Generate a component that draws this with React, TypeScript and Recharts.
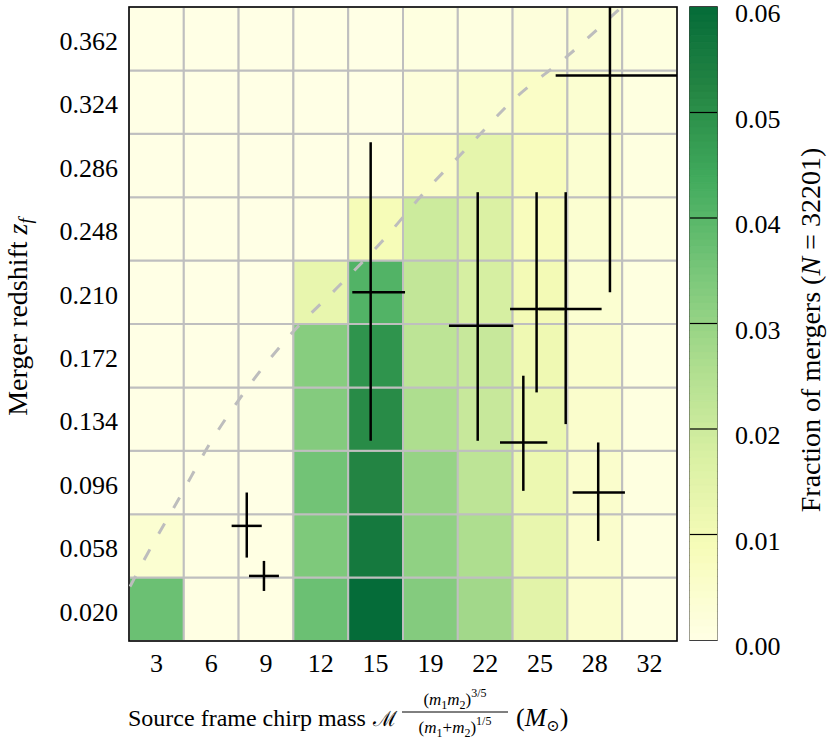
import React from 'react';
import {
  ComposedChart,
  BarChart,
  Bar,
  XAxis,
  YAxis,
  ReferenceArea,
  ReferenceLine,
  Line,
  Scatter,
  ErrorBar,
} from 'recharts';

const FONT = "'Liberation Serif', 'DejaVu Serif', serif";

// ---- bins ----
const massCenters = [3.05, 6.27, 9.49, 12.71, 15.93, 19.15, 22.37, 25.59, 28.81, 32.03];
const massLabels = ['3', '6', '9', '12', '15', '19', '22', '25', '28', '32'];
const massBinWidth = 3.22;
const zCenters = [0.02, 0.058, 0.096, 0.134, 0.172, 0.21, 0.248, 0.286, 0.324, 0.362];
const zLabels = ['0.020', '0.058', '0.096', '0.134', '0.172', '0.210', '0.248', '0.286', '0.324', '0.362'];
const zBinWidth = 0.038;

// ---- fraction of mergers per cell, one array per redshift row (columns = mass bins) ----
const frac_z020 = [0.037, 0.0003, 0.0003, 0.037, 0.06, 0.033, 0.028, 0.015, 0.005, 0.001];
const frac_z058 = [0.004, 0.0003, 0.0003, 0.034, 0.056, 0.031, 0.026, 0.013, 0.005, 0.001];
const frac_z096 = [0, 0, 0, 0.036, 0.0525, 0.03, 0.023, 0.012, 0.005, 0.001];
const frac_z134 = [0, 0, 0, 0.033, 0.051, 0.026, 0.021, 0.012, 0.005, 0.001];
const frac_z172 = [0, 0, 0, 0.0325, 0.049, 0.023, 0.021, 0.011, 0.005, 0.001];
const frac_z210 = [0, 0, 0, 0.013, 0.041, 0.022, 0.018, 0.01, 0.004, 0.001];
const frac_z248 = [0, 0, 0, 0.0003, 0.009, 0.02, 0.017, 0.008, 0.004, 0.001];
const frac_z286 = [0, 0, 0, 0, 0.0005, 0.006, 0.014, 0.008, 0.004, 0.001];
const frac_z324 = [0, 0, 0, 0, 0, 0.002, 0.004, 0.006, 0.004, 0.001];
const frac_z362 = [0, 0, 0, 0, 0, 0.001, 0.001, 0.002, 0.003, 0.001];
const fracRows = [frac_z020, frac_z058, frac_z096, frac_z134, frac_z172, frac_z210, frac_z248, frac_z286, frac_z324, frac_z362];

// ---- observed events (crosses) ----
const crossMass = [8.36, 9.37, 15.64, 21.93, 25.39, 27.1, 24.61, 29.01, 29.7];
const crossMassLow = [7.47, 8.49, 14.56, 20.24, 23.83, 25.53, 23.24, 27.51, 26.51];
const crossMassHigh = [9.24, 10.25, 17.66, 24.02, 27.0, 29.21, 26.02, 30.58, 33.64];
const crossZ = [0.07, 0.04, 0.21, 0.19, 0.2, 0.2, 0.12, 0.09, 0.34];
const crossZLow = [0.051, 0.031, 0.121, 0.121, 0.15, 0.131, 0.091, 0.061, 0.21];
const crossZHigh = [0.09, 0.049, 0.3, 0.27, 0.27, 0.27, 0.16, 0.12, 0.381];

// ---- horizon curve (dashed) ----
const curveMass = [1.5, 2.38, 4.44, 6.2, 8.45, 11.0, 13.64, 16.29, 18.83, 21.38, 24.12, 27.16, 30.09, 30.39];
const curveZ = [0.0336, 0.0506, 0.0875, 0.1195, 0.1534, 0.1854, 0.2124, 0.2403, 0.2703, 0.2973, 0.3263, 0.3512, 0.3782, 0.381];

// ---- colour bar ----
const cbTicks = [0, 0.01, 0.02, 0.03, 0.04, 0.05, 0.06];
const cbMax = 0.06;
const cmapMax = 0.07;

const YLGN = ['#ffffe5', '#f7fcb9', '#d9f0a3', '#addd8e', '#78c679', '#41ab5d', '#238443', '#006837', '#004529'];
function hexToRgb(h: string) {
  return [parseInt(h.slice(1, 3), 16), parseInt(h.slice(3, 5), 16), parseInt(h.slice(5, 7), 16)];
}
function cmap(v: number) {
  const f = Math.max(0, Math.min(1, v / cmapMax));
  const pos = f * (YLGN.length - 1);
  const i = Math.min(YLGN.length - 2, Math.floor(pos));
  const t = pos - i;
  const a = hexToRgb(YLGN[i]);
  const b = hexToRgb(YLGN[i + 1]);
  const c = a.map((x, k) => Math.round(x + (b[k] - x) * t));
  return `rgb(${c[0]},${c[1]},${c[2]})`;
}

const xMin = massCenters[0] - massBinWidth / 2;
const xMax = massCenters[massCenters.length - 1] + massBinWidth / 2;
const yMin = zCenters[0] - zBinWidth / 2;
const yMax = zCenters[zCenters.length - 1] + zBinWidth / 2;

const cells: { x1: number; x2: number; y1: number; y2: number; v: number; key: string }[] = [];
fracRows.forEach((row, r) => {
  row.forEach((v, c) => {
    cells.push({
      x1: massCenters[c] - massBinWidth / 2,
      x2: massCenters[c] + massBinWidth / 2,
      y1: zCenters[r] - zBinWidth / 2,
      y2: zCenters[r] + zBinWidth / 2,
      v,
      key: `${r}-${c}`,
    });
  });
});

const crossData = crossMass.map((m, i) => ({
  m,
  z: crossZ[i],
  mErr: [m - crossMassLow[i], crossMassHigh[i] - m],
  zErr: [crossZ[i] - crossZLow[i], crossZHigh[i] - crossZ[i]],
}));

const curveData = curveMass.map((m, i) => ({ m, z: curveZ[i] }));

// colour bar as a stack of thin slices
const nSlices = 90;
const sliceH = cbMax / nSlices;
const cbRow: Record<string, number | string> = { name: 'cb' };
const cbKeys: { key: string; color: string }[] = [];
for (let i = 0; i < nSlices; i++) {
  const key = `s${i}`;
  cbRow[key] = sliceH;
  cbKeys.push({ key, color: cmap((i + 0.5) * sliceH) });
}
const cbData = [cbRow];

const XTitle = () => (
  <g fontFamily={FONT} fill="#000">
    <text x={128} y={726} fontSize={24}>
      Source frame chirp mass
    </text>
    <text x={373} y={726} fontSize={21}>
      ℳ
    </text>
    <text x={455} y={705} fontSize={17} textAnchor="middle">
      (<tspan fontStyle="italic">m</tspan>
      <tspan fontSize={12} dy={4}>1</tspan>
      <tspan fontStyle="italic" dy={-4}>m</tspan>
      <tspan fontSize={12} dy={4}>2</tspan>
      <tspan dy={-4}>)</tspan>
      <tspan fontSize={12} dy={-8}>3/5</tspan>
    </text>
    <line x1={402} x2={508} y1={712} y2={712} stroke="#000" strokeWidth={1} />
    <text x={455} y={733} fontSize={17} textAnchor="middle">
      (<tspan fontStyle="italic">m</tspan>
      <tspan fontSize={12} dy={4}>1</tspan>
      <tspan dy={-4}>+</tspan>
      <tspan fontStyle="italic">m</tspan>
      <tspan fontSize={12} dy={4}>2</tspan>
      <tspan dy={-4}>)</tspan>
      <tspan fontSize={12} dy={-8}>1/5</tspan>
    </text>
    <text x={516} y={726} fontSize={26}>
      (<tspan fontStyle="italic">M</tspan>
      <tspan fontSize={16} dy={5}>⊙</tspan>
      <tspan dy={-5}>)</tspan>
    </text>
  </g>
);

const YTitle = () => (
  <text
    x={27}
    y={317}
    fontSize={28}
    fontFamily={FONT}
    fill="#000"
    textAnchor="middle"
    transform="rotate(-90, 27, 317)"
  >
    Merger redshift <tspan fontStyle="italic">z</tspan>
    <tspan fontStyle="italic" fontSize={19} dy={5}>f</tspan>
  </text>
);

const CbTitle = () => (
  <text
    x={140}
    y={330}
    fontSize={28}
    fontFamily={FONT}
    fill="#000"
    textAnchor="middle"
    transform="rotate(-90, 140, 330)"
  >
    Fraction of mergers (<tspan fontStyle="italic">N</tspan> = 32201)
  </text>
);

export default function App() {
  return (
    <div style={{ position: 'absolute', left: 0, top: 0, width: 830, height: 740, background: '#fff' }}>
      <div style={{ position: 'absolute', left: 0, top: 0 }}>
        <ComposedChart width={690} height={740} margin={{ top: 7, right: 13, bottom: 0, left: 0 }}>
          <XAxis
            type="number"
            dataKey="m"
            domain={[xMin, xMax]}
            allowDataOverflow
            ticks={massCenters}
            interval={0}
            tickFormatter={(v: number) => massLabels[massCenters.indexOf(v)] ?? ''}
            height={99}
            axisLine={false}
            tickLine={false}
            tickSize={0}
            tickMargin={13}
            tick={{ fontSize: 26, fill: '#000', fontFamily: FONT }}
            label={<XTitle />}
          />
          <YAxis
            type="number"
            dataKey="z"
            domain={[yMin, yMax]}
            allowDataOverflow
            ticks={zCenters}
            interval={0}
            tickFormatter={(v: number) => zLabels[zCenters.indexOf(v)] ?? ''}
            width={129}
            axisLine={false}
            tickLine={false}
            tickSize={0}
            tickMargin={11}
            tick={{ fontSize: 26, fill: '#000', fontFamily: FONT, dy: 2 }}
            label={<YTitle />}
          />
          {cells.map((c) => (
            <ReferenceArea
              key={c.key}
              x1={c.x1}
              x2={c.x2}
              y1={c.y1}
              y2={c.y2}
              fill={cmap(c.v)}
              fillOpacity={1}
              stroke="#bfbfbf"
              strokeWidth={2}
              ifOverflow="visible"
            />
          ))}
          <Line
            data={curveData}
            dataKey="z"
            type="monotone"
            stroke="#bdbdbd"
            strokeWidth={3}
            strokeDasharray="12 18"
            dot={false}
            activeDot={false}
            isAnimationActive={false}
            legendType="none"
          />
          <Scatter
            data={crossData}
            dataKey="z"
            shape={() => <g />}
            isAnimationActive={false}
            legendType="none"
          >
            <ErrorBar dataKey="mErr" direction="x" width={0} stroke="#000" strokeWidth={2.5} />
            <ErrorBar dataKey="zErr" direction="y" width={0} stroke="#000" strokeWidth={2.5} />
          </Scatter>
          <ReferenceArea
            x1={xMin}
            x2={xMax}
            y1={yMin}
            y2={yMax}
            fill="none"
            stroke="#000"
            strokeWidth={1.5}
            ifOverflow="visible"
          />
        </ComposedChart>
      </div>
      <div style={{ position: 'absolute', left: 680, top: 0 }}>
        <BarChart
          width={150}
          height={740}
          data={cbData}
          margin={{ top: 7, right: 0, bottom: 100, left: 10 }}
          barCategoryGap={0}
          barGap={0}
        >
          <XAxis type="category" dataKey="name" hide height={0} />
          <YAxis
            type="number"
            orientation="right"
            domain={[0, cbMax]}
            allowDataOverflow
            ticks={cbTicks}
            interval={0}
            tickFormatter={(v: number) => v.toFixed(2)}
            width={113}
            axisLine={false}
            tickLine={false}
            tickSize={0}
            tickMargin={18}
            tick={{ fontSize: 26, fill: '#000', fontFamily: FONT, textAnchor: 'start', dy: 6 }}
            label={<CbTitle />}
          />
          {cbKeys.map((k) => (
            <Bar
              key={k.key}
              dataKey={k.key}
              stackId="cb"
              fill={k.color}
              stroke={k.color}
              strokeWidth={1}
              isAnimationActive={false}
              legendType="none"
            />
          ))}
          {cbTicks.slice(1, -1).map((t) => (
            <ReferenceLine key={t} y={t} stroke="#000" strokeWidth={1.2} ifOverflow="visible" />
          ))}
          <ReferenceArea
            y1={0}
            y2={cbMax}
            fill="none"
            stroke="#000"
            strokeWidth={1.5}
            ifOverflow="visible"
          />
        </BarChart>
      </div>
    </div>
  );
}
